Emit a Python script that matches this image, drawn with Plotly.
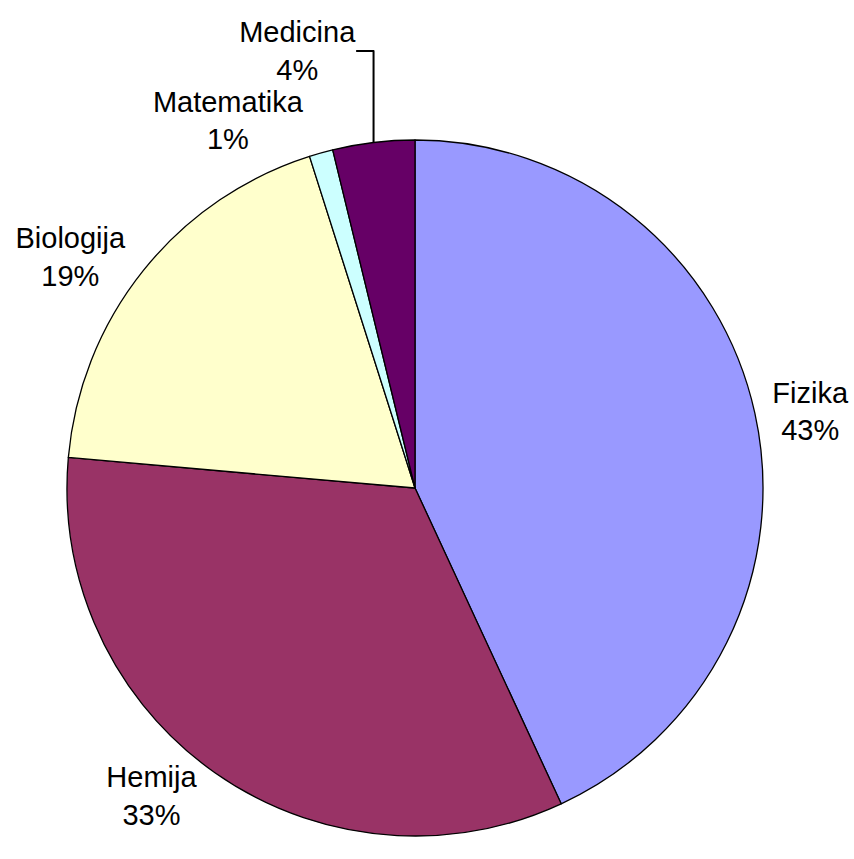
import plotly.graph_objects as go

labels = ["Fizika", "Hemija", "Biologija", "Matematika", "Medicina"]
values = [43.1, 33.3, 18.7, 1.1, 3.8]
pct_text = ["43%", "33%", "19%", "1%", "4%"]
colors = ["#9999FF", "#993366", "#FFFFCC", "#CCFFFF", "#660066"]

fig = go.Figure(go.Pie(
    labels=labels,
    values=values,
    text=pct_text,
    sort=False,
    direction="clockwise",
    rotation=0,
    marker=dict(colors=colors, line=dict(color="black", width=1.3)),
    texttemplate="%{label}<br>%{text}",
    textposition="outside",
    textfont=dict(family="Liberation Sans, Arial, sans-serif", size=29, color="black"),
    showlegend=False,
    hoverinfo="label+percent",
))

fig.update_layout(
    width=854,
    height=859,
    margin=dict(l=67, r=89, t=139, b=22),
    paper_bgcolor="white",
    plot_bgcolor="white",
)

fig.write_html(
    "out.html",
    config={"displayModeBar": False},
    post_script="document.body.style.margin='0';document.body.style.overflow='hidden';",
)
